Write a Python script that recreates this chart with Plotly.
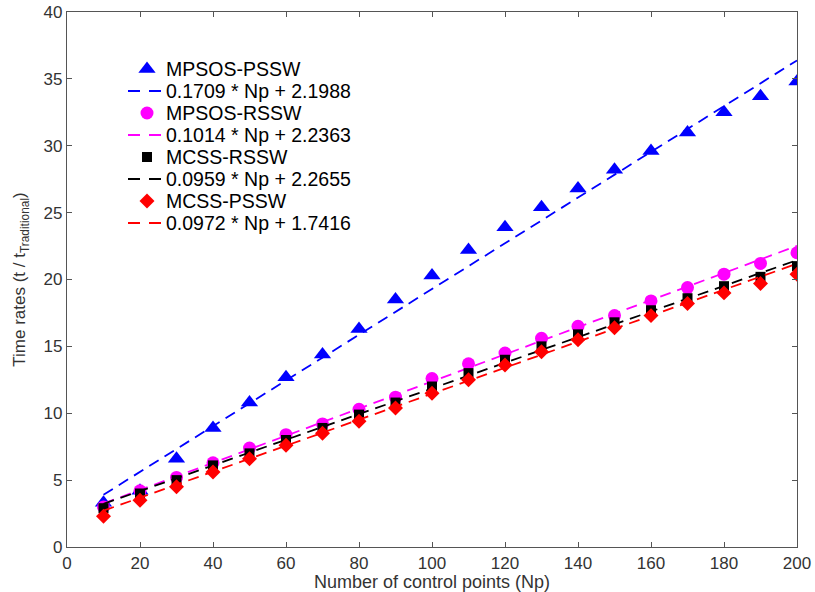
import plotly.graph_objects as go

np_vals = [10, 20, 30, 40, 50, 60, 70, 80, 90, 100, 110, 120, 130, 140, 150, 160, 170, 180, 190, 200]

mpsos_pssw = [3.3, 4.2, 6.6, 8.9, 10.8, 12.7, 14.4, 16.3, 18.5, 20.3, 22.2, 23.9, 25.4, 26.8, 28.2, 29.6, 31.0, 32.5, 33.7, 34.8]
mpsos_rssw = [3.0, 4.2, 5.2, 6.3, 7.4, 8.4, 9.2, 10.3, 11.2, 12.6, 13.7, 14.5, 15.6, 16.5, 17.3, 18.4, 19.4, 20.4, 21.2, 22.0]
mcss_rssw = [2.9, 4.0, 5.0, 6.1, 7.0, 8.0, 8.9, 9.9, 10.8, 12.0, 13.0, 14.0, 15.0, 15.9, 16.8, 17.7, 18.6, 19.5, 20.2, 21.0]
mcss_pssw = [2.3, 3.5, 4.5, 5.6, 6.6, 7.6, 8.5, 9.4, 10.4, 11.5, 12.5, 13.6, 14.6, 15.5, 16.4, 17.3, 18.2, 19.0, 19.7, 20.4]

series_names = ["MPSOS-PSSW", "MPSOS-RSSW", "MCSS-RSSW", "MCSS-PSSW"]
series_data = [mpsos_pssw, mpsos_rssw, mcss_rssw, mcss_pssw]
slopes = [0.1709, 0.1014, 0.0959, 0.0972]
intercepts = [2.1988, 2.2363, 2.2655, 1.7416]
fit_labels = ["0.1709 * Np + 2.1988", "0.1014 * Np + 2.2363", "0.0959 * Np + 2.2655", "0.0972 * Np + 1.7416"]

colors = ["#0000ff", "#ff00ff", "#000000", "#ff0000"]
symbols = ["triangle-up", "circle", "square", "diamond"]
sizes = [15, 13, 10, 11.5]

FONT = "Liberation Sans, Arial, Helvetica, sans-serif"
DASH = "11px,7px"

# plot-area geometry in pixels (used to place the legend box in paper fractions)
W, H = 815, 592
ML, MR, MT, MB = 67, 18, 12, 45
PW, PH = W - ML - MR, H - MT - MB


def px_to_paper_x(px):
    return (px - ML) / PW


def px_to_paper_y(py):
    return (H - MB - py) / PH


fig = go.Figure()
for name, data, m, b, flab, c, sym, sz in zip(series_names, series_data, slopes, intercepts,
                                               fit_labels, colors, symbols, sizes):
    fig.add_trace(go.Scatter(x=np_vals, y=data, mode="markers", name=name, showlegend=False,
                             marker=dict(symbol=sym, size=sz, color=c, line=dict(width=0))))
    fit = [m * x + b for x in np_vals]
    fig.add_trace(go.Scatter(x=np_vals, y=fit, mode="lines", name=flab, showlegend=False,
                             line=dict(color=c, width=1.8, dash=DASH)))

# Custom legend (drawn on an overlay axis spanning the plot area with range 0..1)
row_y0 = 69
row_step = 22
sym_x = 147
line_x0, line_x1 = 128, 161
text_x = 165
annotations = []
for i, (name, flab, c, sym, sz) in enumerate(zip(series_names, fit_labels, colors, symbols, sizes)):
    y_mark = px_to_paper_y(row_y0 + (2 * i) * row_step)
    y_line = px_to_paper_y(row_y0 + (2 * i + 1) * row_step)
    fig.add_trace(go.Scatter(x=[px_to_paper_x(sym_x)], y=[y_mark], mode="markers", showlegend=False,
                             xaxis="x2", yaxis="y2", hoverinfo="skip",
                             marker=dict(symbol=sym, size=sz, color=c, line=dict(width=0))))
    fig.add_trace(go.Scatter(x=[px_to_paper_x(line_x0), px_to_paper_x(line_x1)], y=[y_line, y_line],
                             mode="lines", showlegend=False, xaxis="x2", yaxis="y2", hoverinfo="skip",
                             line=dict(color=c, width=1.8, dash="12px,9px")))
    for txt, yy in ((name, y_mark), (flab, y_line)):
        annotations.append(dict(x=px_to_paper_x(text_x), y=yy, xref="paper", yref="paper",
                                text=txt, showarrow=False, xanchor="left", yanchor="middle",
                                borderpad=0,
                                font=dict(family=FONT, size=19.5, color="#000000")))

axis_common = dict(showgrid=False, zeroline=False, showline=True, linecolor="#555555", linewidth=1.3,
                   mirror="ticks", ticks="inside", ticklen=5, tickcolor="#555555", tickwidth=1,
                   automargin=False,
                   tickfont=dict(family=FONT, size=17, color="#333333"))

fig.update_layout(
    width=W, height=H,
    margin=dict(l=ML, r=MR, t=MT, b=MB, autoexpand=False),
    paper_bgcolor="white", plot_bgcolor="white",
    font=dict(family=FONT, color="#000000"),
    showlegend=False,
    annotations=annotations,
    xaxis=dict(range=[0, 200], tick0=0, dtick=20,
               title=dict(text="Number of control points (Np)",
                          font=dict(family=FONT, size=18, color="#333333"), standoff=3),
               **axis_common),
    yaxis=dict(range=[0, 40], tick0=0, dtick=5,
               title=dict(text="Time rates (t / t<sub>Traditional</sub>)",
                          font=dict(family=FONT, size=17, color="#333333"), standoff=13),
               **axis_common),
    xaxis2=dict(range=[0, 1], overlaying="x", visible=False, fixedrange=True),
    yaxis2=dict(range=[0, 1], overlaying="y", visible=False, fixedrange=True),
)

fig.write_html("out.html")
